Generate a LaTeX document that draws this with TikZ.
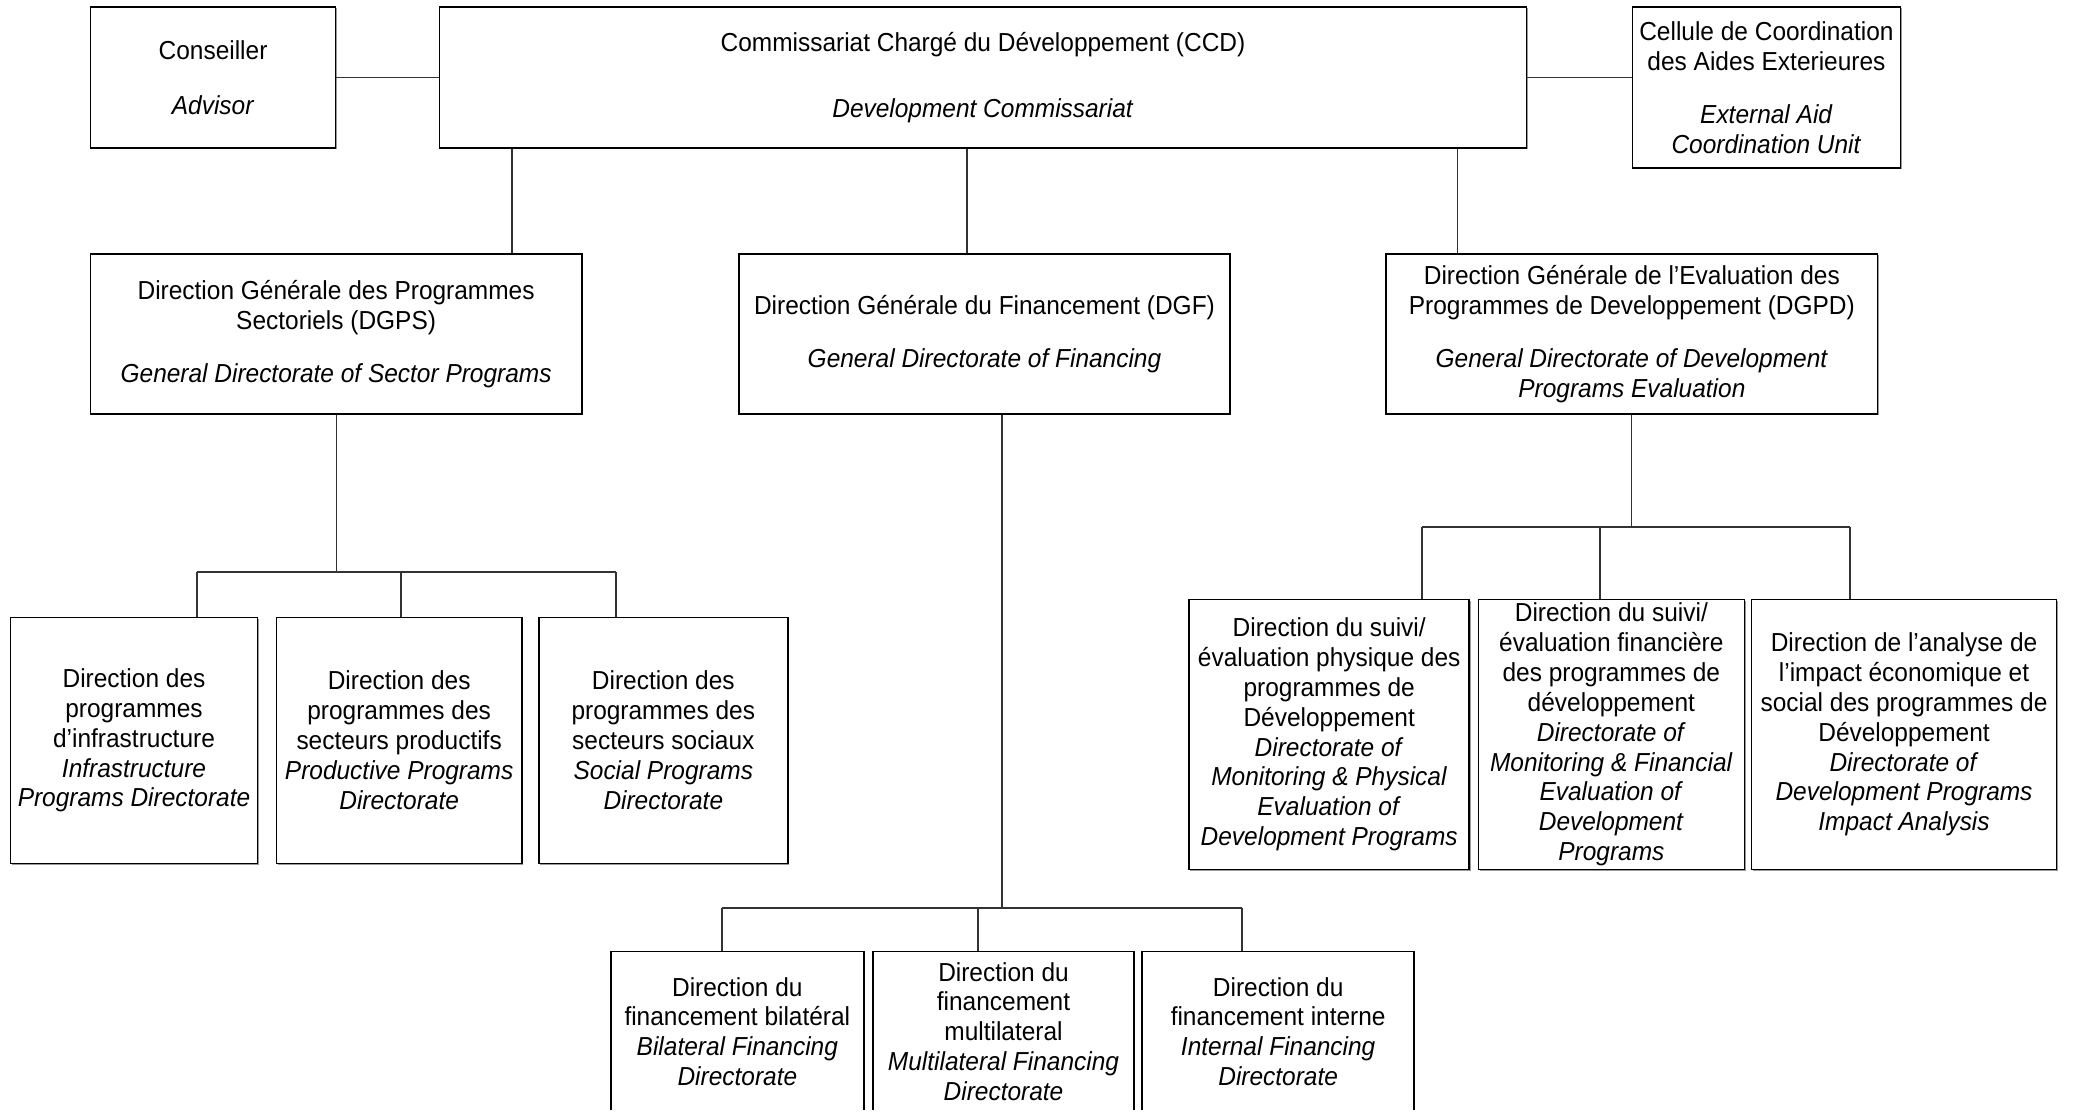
\documentclass[tikz,border=0pt]{standalone}
\usepackage{fontspec}
\setmainfont{Liberation Sans}[FakeStretch=0.94]
\usepackage{tikz}
\usepackage{xcolor}
\usetikzlibrary{shapes, arrows, positioning, shadows, calc}
\tikzstyle{box} = [rectangle, draw, line width=0.45pt, fill=white, align=center, inner sep=0pt, font=\fontsize{7.4}{8.5}\selectfont, drop shadow={shadow xshift=0.35pt, shadow yshift=-0.35pt, fill=black!40, opacity=1}]
\tikzstyle{line} = [draw, line width=0.3pt, black!80]

\begin{document}
\begin{tikzpicture}[x=0.01cm, y=0.01cm, node distance=2.5cm]
    \useasboundingbox (0,0) rectangle (2074,-1111);
    \clip (0,0) rectangle (2074,-1109);

    % Top level
    \node [box, minimum width=10.86cm, minimum height=1.41cm] (ccd) at (983,-77.5) {Commissariat Chargé du Développement (CCD)\\[10.3pt]\textit{Development Commissariat}};
    \node [box, left of=ccd, node distance=7.695cm, minimum width=2.45cm, minimum height=1.41cm] (adv) {Conseiller\\[7pt]\textit{Advisor}};
    \node [box, right of=ccd, node distance=7.83cm, yshift=-0.1cm, minimum width=2.68cm, minimum height=1.61cm] (ceca) {Cellule de Coordination\\des Aides Exterieures\\[6.5pt]\textit{External Aid}\\\textit{Coordination Unit}};

    % General directorates
    \node [box, below of=ccd, node distance=2.565cm, xshift=0.015cm, minimum width=4.91cm, minimum height=1.6cm] (dgf) {Direction Générale du Financement (DGF)\\[6.7pt]\textit{General Directorate of Financing}};
    \node [box, left of=dgf, node distance=6.48cm, minimum width=4.91cm, minimum height=1.6cm] (dgps) {Direction Générale des Programmes\\Sectoriels (DGPS)\\[6.7pt]\textit{General Directorate of Sector Programs}};
    \node [box, right of=dgf, node distance=6.47cm, minimum width=4.91cm, minimum height=1.6cm] (dgpd) {Direction Générale de l’Evaluation des\\Programmes de Developpement (DGPD)\\[6.7pt]\textit{General Directorate of Development}\\\textit{Programs Evaluation}};

    % Sector programs
    \node [box, below of=dgps, node distance=4.06cm, xshift=0.63cm, minimum width=2.45cm, minimum height=2.46cm] (prod) {Direction des\\programmes des\\secteurs productifs\\\textit{Productive Programs}\\\textit{Directorate}};
    \node [box, left of=prod, node distance=2.65cm, minimum width=2.47cm, minimum height=2.46cm] (infra) {Direction des\\programmes\\d’infrastructure\\\textit{Infrastructure}\\\textit{Programs Directorate}};
    \node [box, right of=prod, node distance=2.64cm, minimum width=2.49cm, minimum height=2.46cm] (soc) {Direction des\\programmes des\\secteurs sociaux\\\textit{Social Programs}\\\textit{Directorate}};

    % Financing
    \node [box, below of=dgf, node distance=6.97cm, xshift=0.19cm, minimum width=2.61cm, minimum height=1.6cm] (multi) {Direction du\\financement\\multilateral\\\textit{Multilateral Financing}\\\textit{Directorate}};
    \node [box, left of=multi, node distance=2.66cm, minimum width=2.53cm, minimum height=1.6cm] (bil) {Direction du\\financement bilatéral\\\textit{Bilateral Financing}\\\textit{Directorate}};
    \node [box, right of=multi, node distance=2.745cm, minimum width=2.72cm, minimum height=1.6cm] (intern) {Direction du\\financement interne\\\textit{Internal Financing}\\\textit{Directorate}};

    % Evaluation
    \node [box, below of=dgpd, node distance=4cm, xshift=-0.205cm, minimum width=2.66cm, minimum height=2.7cm] (fin) {Direction du suivi/\\évaluation financière\\des programmes de\\développement\\\textit{Directorate of}\\\textit{Monitoring \& Financial}\\\textit{Evaluation of}\\\textit{Development}\\\textit{Programs}};
    \node [box, left of=fin, node distance=2.82cm, minimum width=2.8cm, minimum height=2.7cm] (phys) {Direction du suivi/\\évaluation physique des\\programmes de\\Développement\\\textit{Directorate of}\\\textit{Monitoring \& Physical}\\\textit{Evaluation of}\\\textit{Development Programs}};
    \node [box, right of=fin, node distance=2.925cm, minimum width=3.05cm, minimum height=2.7cm] (impact) {Direction de l’analyse de\\l’impact économique et\\social des programmes de\\Développement\\\textit{Directorate of}\\\textit{Development Programs}\\\textit{Impact Analysis}};

    % Lines
    \coordinate (k1) at (512,0);
    \coordinate (k2) at (967,0);
    \coordinate (k3) at (1457.5,0);
    \path [line] (adv.east) -- (ccd.west);
    \path [line] (ccd.east) -- (ccd.east -| ceca.west);
    \path [line] (ccd.south -| k1) -- (dgps.north -| k1);
    \path [line] (ccd.south -| k2) -- (dgf.north -| k2);
    \path [line] (ccd.south -| k3) -- (dgpd.north -| k3);

    \coordinate (s1) at (197,-572);
    \coordinate (s2) at (401,-572);
    \coordinate (s3) at (616,-572);
    \path [line] (dgps.south) -- (dgps.south |- s1);
    \path [line] (s1) -- (s3);
    \path [line] (s1) -- (infra.north -| s1);
    \path [line] (s2) -- (prod.north -| s2);
    \path [line] (s3) -- (soc.north -| s3);

    \coordinate (f0) at (1002,-908);
    \coordinate (f1) at (722,-908);
    \coordinate (f2) at (978,-908);
    \coordinate (f3) at (1242,-908);
    \path [line] (dgf.south -| f0) -- (f0);
    \path [line] (f1) -- (f3);
    \path [line] (f1) -- (bil.north -| f1);
    \path [line] (f2) -- (multi.north -| f2);
    \path [line] (f3) -- (intern.north -| f3);

    \coordinate (e1) at (1422,-527);
    \coordinate (e2) at (1600,-527);
    \coordinate (e3) at (1850,-527);
    \path [line] (dgpd.south) -- (dgpd.south |- e1);
    \path [line] (e1) -- (e3);
    \path [line] (e1) -- (phys.north -| e1);
    \path [line] (e2) -- (fin.north -| e2);
    \path [line] (e3) -- (impact.north -| e3);

\end{tikzpicture}
\end{document}
